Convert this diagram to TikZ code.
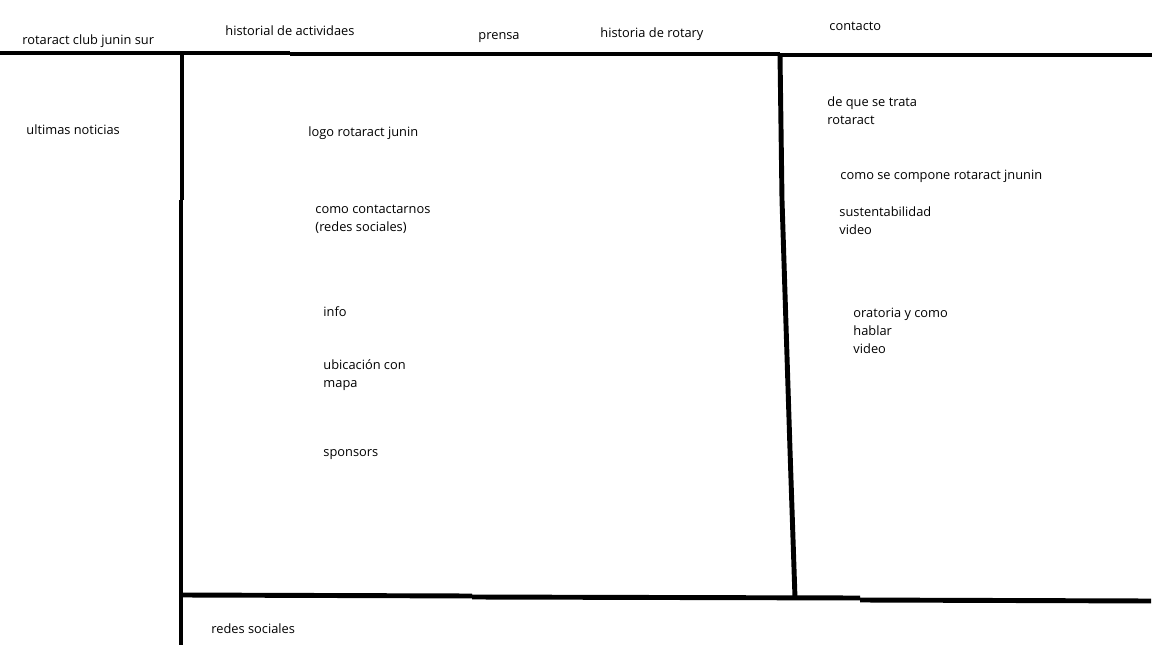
\documentclass[tikz,border=0pt]{standalone}
\usepackage{fontspec}
\setmainfont{Open Sans}
\begin{document}
\begin{tikzpicture}[x=0.02cm,y=-0.02cm,line width=2.8pt,
  lbl/.style={anchor=west,inner sep=0pt,align=left,shift={(-2,2)},font=\fontsize{7.3}{10.2}\selectfont}]
\useasboundingbox (0,0) rectangle (1152,648);
% marco
\draw (0,53)--(290,53) (290,54)--(780,54) (780,55)--(1152,55);
\draw (182,53)--(182,200) (181,200)--(181,645);
\draw (780,55)--(782,200)--(790,450)--(795,598);
\draw (182,595)--(472,596) (472,597)--(860,598) (860,600)--(1151,601);
% barra superior
\foreach \t/\x/\y [count=\i] in {rotaract club junin sur/22/39,historial de actividaes/225/29,prensa/478/36,historia de rotary/600/32,contacto/829/24}
  \node[lbl] (nav\i) at (\x,\y) {\t};
% columnas
\node[lbl] (news) at (26,128) {ultimas noticias};
\node[lbl] (logo) at (308,131) {logo rotaract junin};
\node[lbl] (cont) at (315,217) {como contactarnos\\(redes sociales)};
\node[lbl] (info) at (323,310) {info};
\node[lbl] (ubic) at (323,373) {ubicación con\\mapa};
\node[lbl] (spon) at (323,453) {sponsors};
\node[lbl] (redes) at (211,627) {redes sociales};
\node[lbl] (trata) at (827,109) {de que se trata\\rotaract};
\node[lbl] (comp) at (840,174) {como se compone rotaract jnunin};
\node[lbl] (sust) at (839,219) {sustentabilidad\\video};
\node[lbl] (orat) at (853,329) {oratoria y como\\hablar\\video};
\end{tikzpicture}
\end{document}
